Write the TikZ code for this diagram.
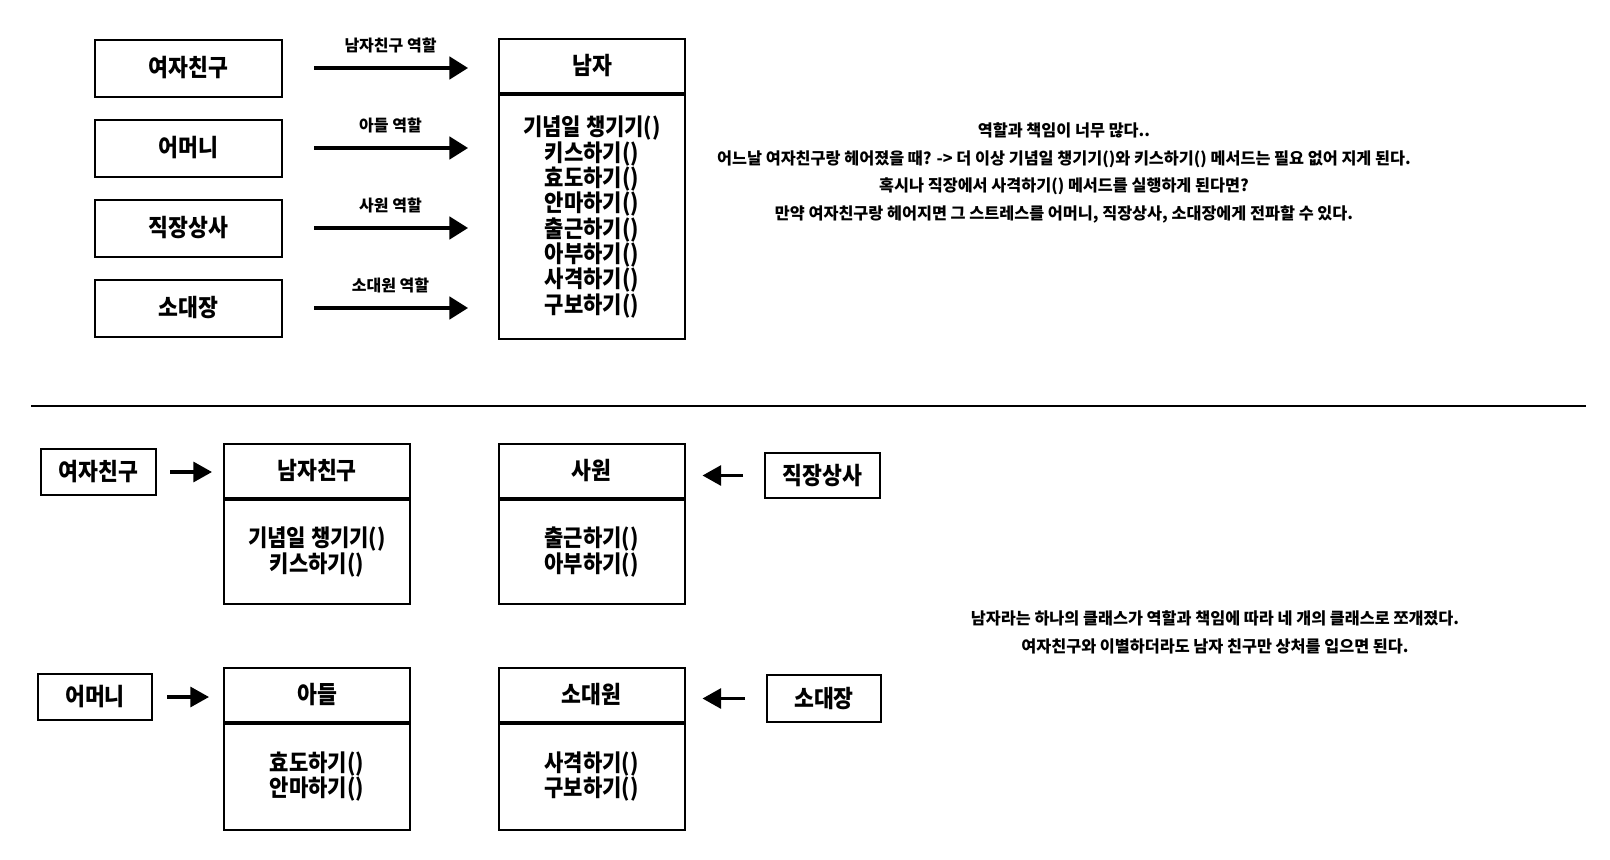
\documentclass[tikz,border=0pt]{standalone}
\usepackage{fontspec}
\newfontfamily\kr[FakeStretch=0.9]{Noto Sans CJK KR}
\newfontfamily\krn{Noto Sans CJK KR}
\usetikzlibrary{positioning, arrows.meta, shapes}

\begin{document}
\begin{tikzpicture}[x=0.75pt,y=-0.75pt]
			\tikzstyle{every node}=[font=\kr\bfseries];
			\tikzstyle{role}=[draw, line width=1.5pt, inner sep=0pt, font=\kr\bfseries\fontsize{18}{20}\selectfont];
			\tikzstyle{head}=[role, minimum width=139.5pt, minimum height=40.5pt];
			\tikzstyle{body}=[draw, line width=1.5pt, minimum width=139.5pt, align=center, anchor=north, font=\kr\bfseries\fontsize{17.5}{19}\selectfont];
			\tikzstyle{bigarrow}=[line width=2.3pt, -{Triangle[length=14pt, width=17pt]}];
			\tikzstyle{smallarrow}=[line width=2.4pt, -{Triangle[length=14pt, width=15pt]}];
			\tikzstyle{note}=[align=center, font=\krn\bfseries\fontsize{12.2}{20.7}\selectfont];
			\tikzstyle{rolelabel}=[midway, above=7pt, font=\krn\bfseries\fontsize{12}{14}\selectfont];
			\useasboundingbox (0,0) rectangle (1610,860);
			% top
			\node[role, minimum width=140.25pt, minimum height=42.75pt] (gf) at (188.5,68) {여자친구};
			\node[role, minimum width=140.25pt, minimum height=42.75pt] (mom) at (188.5,148) {어머니};
			\node[role, minimum width=140.25pt, minimum height=42.75pt] (boss) at (188.5,228) {직장상사};
			\node[role, minimum width=140.25pt, minimum height=42.75pt] (cap) at (188.5,308) {소대장};
			\node[head] (man) at (592,66) {남자};
			\node[body, minimum height=183pt] (manb) at (man.south) {기념일 챙기기()\\키스하기()\\효도하기()\\안마하기()\\출근하기()\\아부하기()\\사격하기()\\구보하기()};
			\draw[bigarrow, shorten <=23.25pt, shorten >=22.5pt] (gf.east) -- (gf.east -| manb.west) node[rolelabel] {남자친구 역할};
			\draw[bigarrow, shorten <=23.25pt, shorten >=22.5pt] (mom.east) -- (mom.east -| manb.west) node[rolelabel] {아들 역할};
			\draw[bigarrow, shorten <=23.25pt, shorten >=22.5pt] (boss.east) -- (boss.east -| manb.west) node[rolelabel] {사원 역할};
			\draw[bigarrow, shorten <=23.25pt, shorten >=22.5pt] (cap.east) -- (cap.east -| manb.west) node[rolelabel] {소대원 역할};
			\node[note] (why) at (1064,173) {역할과 책임이 너무 많다..\\어느날 여자친구랑 헤어졌을 때? -> 더 이상 기념일 챙기기()와 키스하기() 메서드는 필요 없어 지게 된다.\\혹시나 직장에서 사격하기() 메서드를 실행하게 된다면?\\만약 여자친구랑 헤어지면 그 스트레스를 어머니, 직장상사, 소대장에게 전파할 수 있다.};
			\draw[line width=2.2pt] (31,406) -- (1586,406);
			% bottom
			\node[role, minimum width=86.25pt, minimum height=34.5pt] (gf2) at (98.5,472) {여자친구};
			\node[role, minimum width=85.5pt, minimum height=34.5pt] (mom2) at (95,697) {어머니};
			\node[role, minimum width=86.25pt, minimum height=33.75pt] (boss2) at (822.5,475.5) {직장상사};
			\node[role, minimum width=85.5pt, minimum height=35.25pt] (cap2) at (824,698.5) {소대장};
			\node[head] (bf) at (317,471) {남자친구};
			\node[body, minimum height=78pt] (bfb) at (bf.south) {기념일 챙기기()\\키스하기()};
			\node[head] (emp) at (591.5,471) {사원};
			\node[body, minimum height=78pt] (empb) at (emp.south) {출근하기()\\아부하기()};
			\node[head] (son) at (317,694.5) {아들};
			\node[body, minimum height=79.5pt] (sonb) at (son.south) {효도하기()\\안마하기()};
			\node[head] (sol) at (591.5,694.5) {소대원};
			\node[body, minimum height=79.5pt] (solb) at (sol.south) {사격하기()\\구보하기()};
			\draw[smallarrow, shorten <=9.75pt, shorten >=8.25pt] (gf2.east) -- (gf2.east -| bf.west);
			\draw[smallarrow, shorten <=10.5pt, shorten >=10.5pt] (mom2.east) -- (mom2.east -| son.west);
			\draw[smallarrow, shorten <=15.75pt, shorten >=12.75pt] (boss2.west) -- (boss2.west -| emp.east);
			\draw[smallarrow, shorten <=15.75pt, shorten >=12.75pt] (cap2.west) -- (cap2.west -| sol.east);
			\node[note, font=\krn\bfseries\fontsize{12.2}{21}\selectfont] (split) at (1215,632) {남자라는 하나의 클래스가 역할과 책임에 따라 네 개의 클래스로 쪼개졌다.\\여자친구와 이별하더라도 남자 친구만 상처를 입으면 된다.};
		\end{tikzpicture}
\end{document}
